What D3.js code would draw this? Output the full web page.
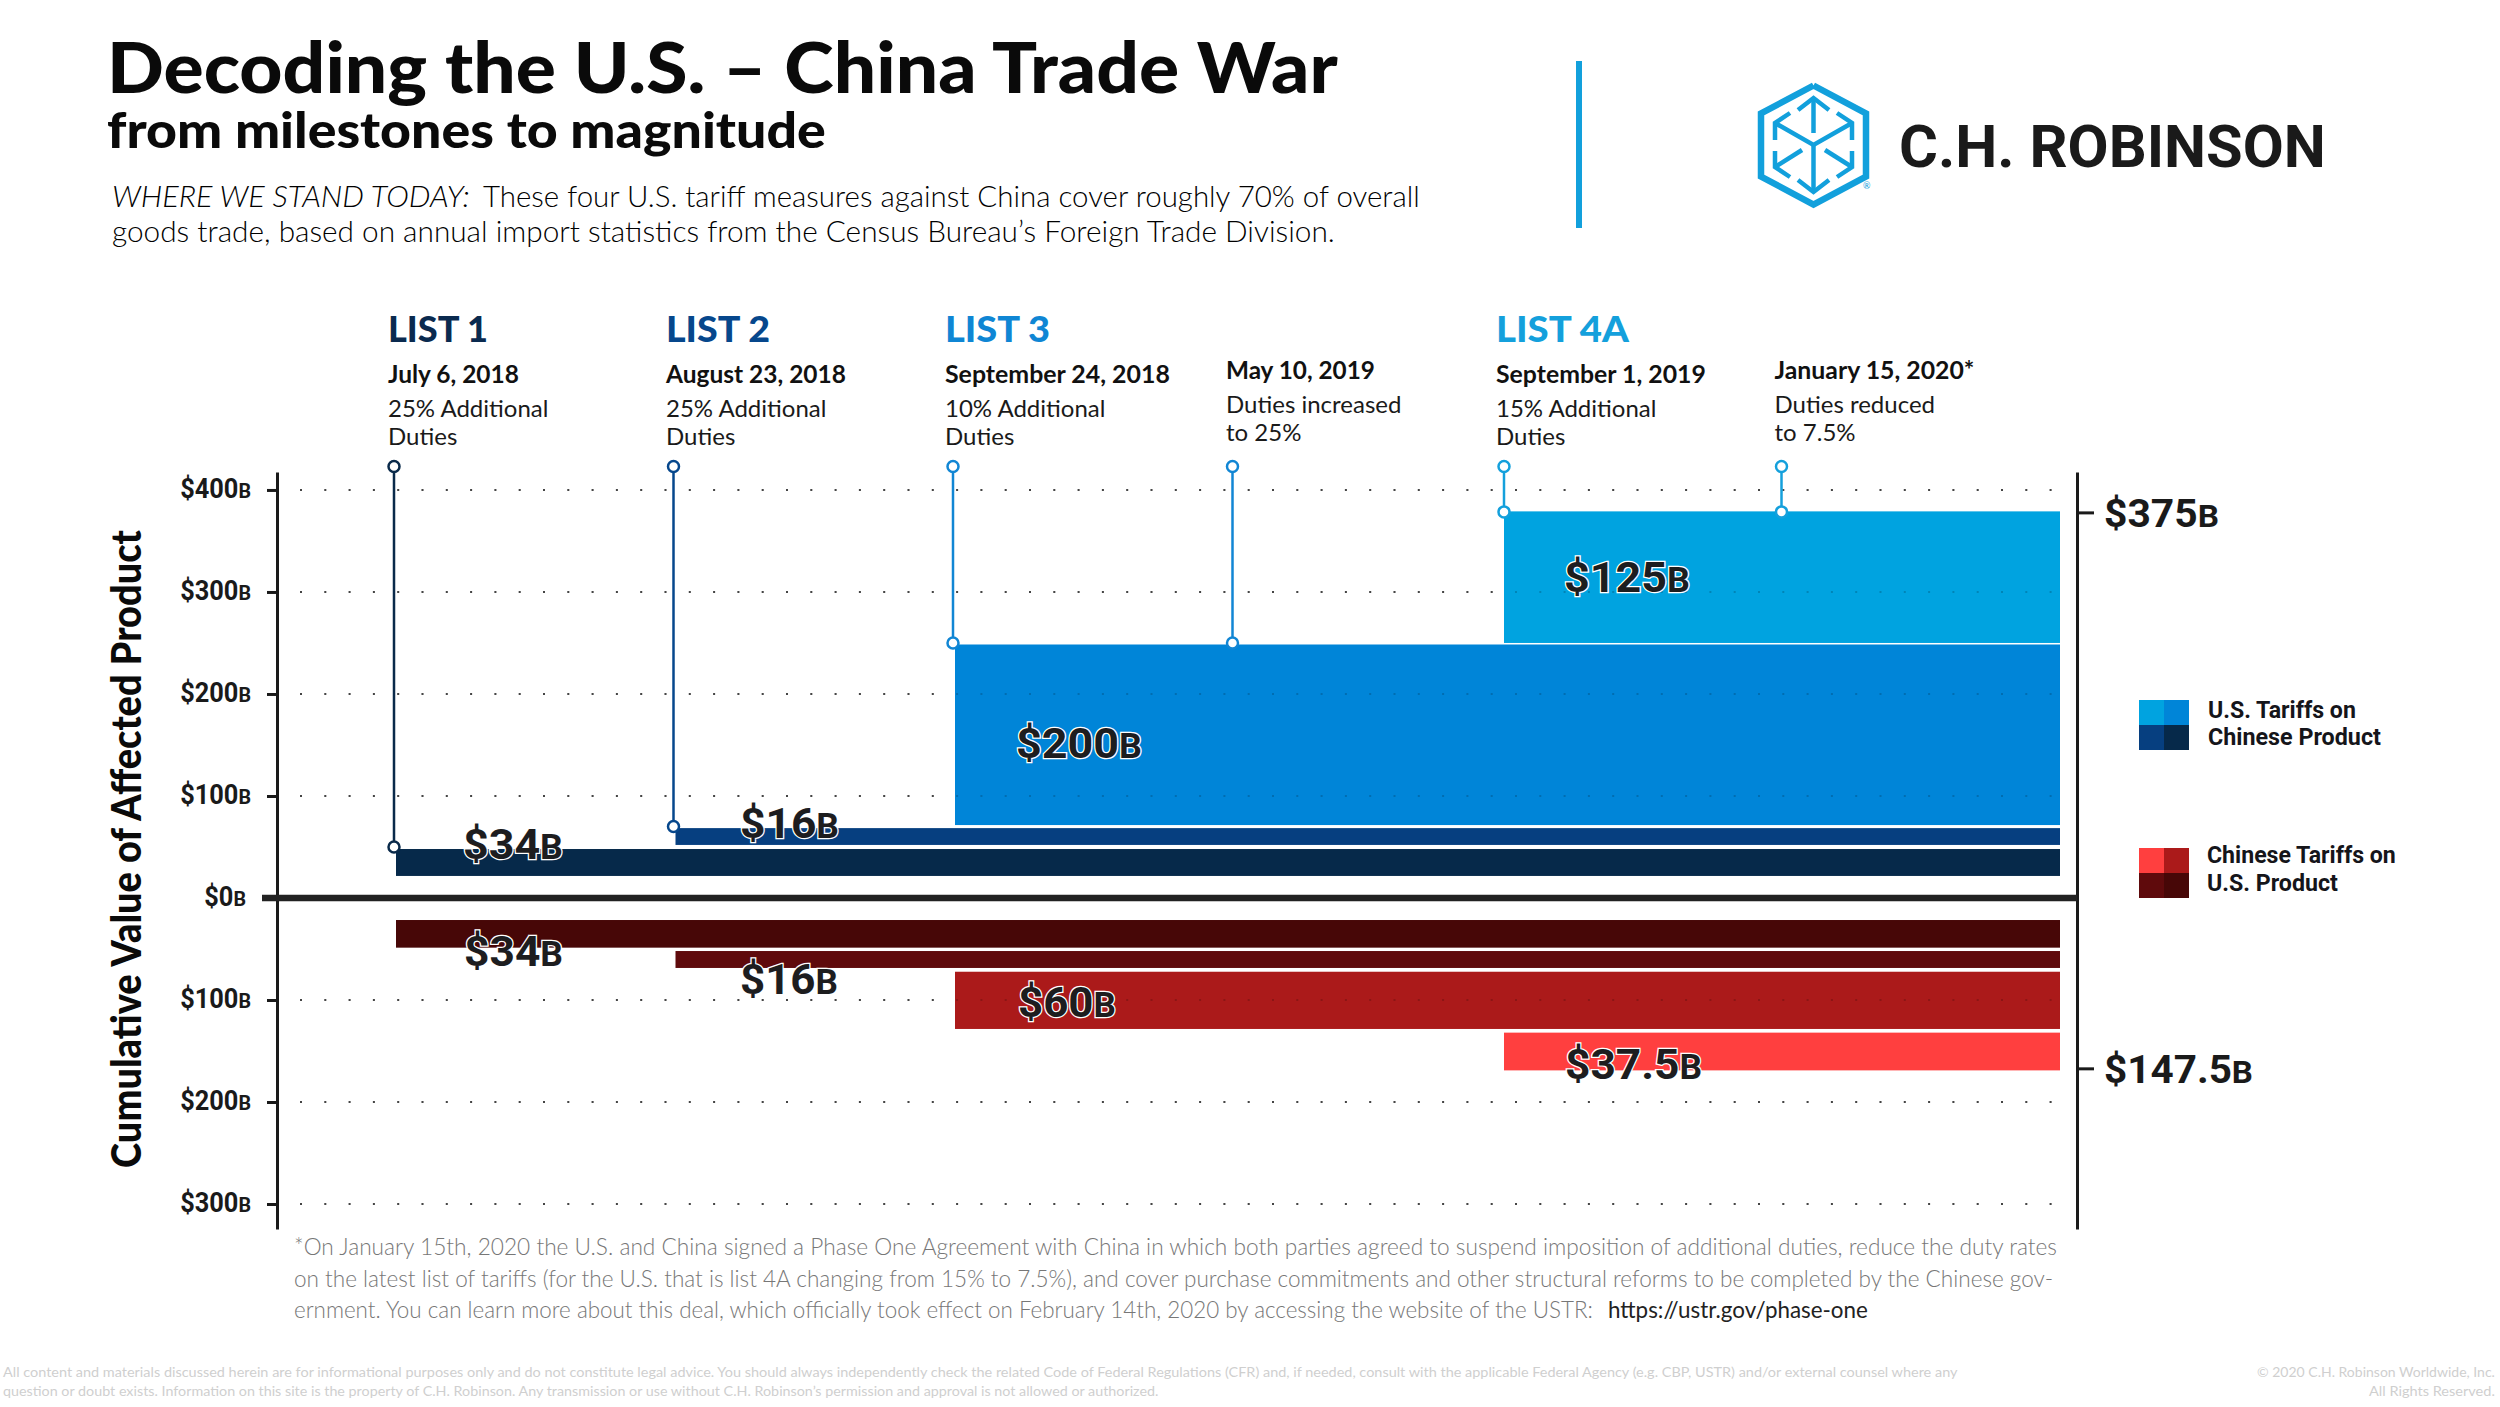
<!DOCTYPE html>
<html>
<head>
<meta charset="utf-8">
<script src="https://cdn.jsdelivr.net/npm/d3@7"></script>
<style>
  body { margin: 0; background: #fff; }
  text { font-family: Lato, "Noto Sans", sans-serif; }
  .num { font-family: Roboto, sans-serif; font-weight: 700; }
  .axis path, .axis line { stroke: #1a1a1a; stroke-width: 3; }
</style>
</head>
<body>
<svg width="2500" height="1407"></svg>
<script>
// values
var milestones = ["July 6, 2018", "August 23, 2018", "September 24, 2018", "May 10, 2019", "September 1, 2019", "January 15, 2020*"];
var milestoneNotes = [
    ["25% Additional", "Duties"],
    ["25% Additional", "Duties"],
    ["10% Additional", "Duties"],
    ["Duties increased", "to 25%"],
    ["15% Additional", "Duties"],
    ["Duties reduced", "to 7.5%"]
];
var listNames = ["LIST 1", "LIST 2", "LIST 3", "", "LIST 4A", ""];
var stemBase = [50, 70, 250, 250, 378.5, 378.5];
var stemTop = 423;

var barStart = [0, 1, 2, 4];
var barEnd = 6;
var usLow = [21.6, 52, 71.5, 250];
var usHigh = [48, 68.5, 248.5, 379];
var usLabels = ["$34", "$16", "$200", "$125"];
var cnLow = [21.6, 52, 72.3, 132];
var cnHigh = [48.7, 68.6, 128.4, 169];
var cnLabels = ["$34", "$16", "$60", "$37.5"];

var leftTicks = [400, 300, 200, 100, 0, -100, -200, -300];
var gridValues = [400, 300, 200, 100, -100, -200, -300];
var rightTicks = [378, -167];
var rightLabels = ["$375", "$147.5"];

// styles
var usColors = ["#06294a", "#063f80", "#0085d8", "#00a3e0"];
var cnColors = ["#470707", "#5f0a0c", "#ab1a1a", "#ff3f3f"];
var stemColors = ["#0a2a4a", "#06478c", "#1186d4", "#1186d4", "#14a0dc", "#14a0dc"];
var listColors = ["#0a2a4f", "#06478c", "#0f86d4", "", "#14a0dc", ""];
var logoBlue = "#12a0dc";

var svg = d3.select("svg");

var yScale = d3.scaleLinear().domain([-324.5, 417.6]).range([1229, 472]);
// milestones are evenly spaced apart from the fifth one
var xScale = d3.scaleLinear().domain([0, 3, 4, 5, 6]).range([394, 1232.5, 1504, 1781.5, 2060]);

// put a text at x,y and squeeze it to a width so it lines up with the original
function place(sel, x, y, w) {
    var k = w ? w / sel.node().getComputedTextLength() : 1;
    return sel.attr("transform", "translate(" + x + "," + y + ") scale(" + k + ",1)");
}

function addText(x, y, w, str, size, weight, color, family, italic) {
    var t = svg.append("text")
        .style("font-size", size + "px")
        .style("font-weight", weight)
        .style("font-style", italic ? "italic" : "normal")
        .attr("fill", color)
        .text(str);
    if (family) t.style("font-family", family);
    return place(t, x, y, w);
}

// header
addText(107, 92.5, 1231, "Decoding the U.S. – China Trade War", 71, 900, "#0a0a0a");
addText(107, 147.5, 719, "from milestones to magnitude", 50, 900, "#0a0a0a");
addText(112, 206.5, 358, "WHERE WE STAND TODAY:", 30, 300, "#000", null, true);
addText(483, 206.5, 937, "These four U.S. tariff measures against China cover roughly 70% of overall", 30, 300, "#000");
addText(112, 241.5, 1223, "goods trade, based on annual import statistics from the Census Bureau’s Foreign Trade Division.", 30, 300, "#000");

svg.append("rect").attr("x", 1576).attr("y", 61).attr("width", 6).attr("height", 167).attr("fill", logoBlue);

// logo
var logoParts = [
    [[1813.5, 85.5], [1866, 113.5], [1866, 176.5], [1813.5, 204.5], [1761, 176.5], [1761, 113.5], [1813.5, 85.5]],
    [[1798, 110], [1813.5, 98], [1829, 110]],
    [[1813.5, 98], [1813.5, 133]],
    [[1775, 123], [1813.5, 145], [1852, 123]],
    [[1813.5, 145], [1813.5, 192]],
    [[1798, 180], [1813.5, 192], [1829, 180]],
    [[1790, 113], [1775, 123], [1775, 140]],
    [[1837, 113], [1852, 123], [1852, 140]],
    [[1775, 151], [1775, 167], [1790, 177]],
    [[1852, 151], [1852, 167], [1837, 177]],
    [[1775, 167], [1802, 150]],
    [[1852, 167], [1825, 150]]
];
svg.append("g").selectAll("path")
    .data(logoParts)
    .enter().append("path")
    .attr("d", d3.line())
    .attr("fill", "none")
    .attr("stroke", logoBlue)
    .attr("stroke-width", function(d, i) { return i == 0 ? 6.5 : 4.5; })
    .attr("stroke-linejoin", "miter");
addText(1863, 189, null, "®", 9, 400, logoBlue);
addText(1899, 166.5, 427, "C.H. ROBINSON", 60, 700, "#1a1a1a", "Roboto");

// dotted grid
function drawGrid(color, opacity) {
    svg.append("g").selectAll("line")
        .data(gridValues)
        .enter().append("line")
        .attr("x1", 300)
        .attr("x2", xScale(barEnd))
        .attr("y1", function(d) { return yScale(d); })
        .attr("y2", function(d) { return yScale(d); })
        .attr("stroke", color)
        .attr("stroke-opacity", opacity)
        .attr("stroke-width", 2)
        .attr("stroke-dasharray", "2 22.3");
}
drawGrid("#555", 1);

// bars
var barInset = [2, 2, 2, 0];
function drawBars(low, high, colors) {
    svg.append("g").selectAll("rect")
        .data(barStart)
        .enter().append("rect")
        .attr("x", function(d, i) { return xScale(d) + barInset[i]; })
        .attr("width", function(d, i) { return xScale(barEnd) - xScale(d) - barInset[i]; })
        .attr("y", function(d, i) { return Math.min(yScale(low[i]), yScale(high[i])); })
        .attr("height", function(d, i) { return Math.abs(yScale(low[i]) - yScale(high[i])); })
        .attr("fill", function(d, i) { return colors[i]; });
}
drawBars(usLow, usHigh, usColors);
drawBars(cnLow.map(function(d) { return -d; }), cnHigh.map(function(d) { return -d; }), cnColors);
drawGrid("#000", 0.18);

// axes
function finishTicks(g, size, smallSize) {
    g.selectAll(".tick text")
        .attr("class", "num")
        .attr("x", 0)
        .attr("dy", 0)
        .attr("fill", "#1a1a1a")
        .style("font-size", size + "px")
        .each(function() {
            d3.select(this).append("tspan").style("font-size", smallSize + "px").text("B");
        });
    return g;
}

var leftAxis = svg.append("g")
    .attr("class", "axis")
    .attr("transform", "translate(277,0)")
    .call(d3.axisLeft(yScale).tickValues(leftTicks).tickSize(10).tickSizeOuter(0)
        .tickFormat(function(d) { return "$" + Math.abs(d); }));
finishTicks(leftAxis, 27, 21);
leftAxis.selectAll(".tick text")
    .attr("transform", function(d) { return "translate(" + (d == 0 ? -31 : -26) + ",7.5) scale(0.94,1)"; });

var rightAxis = svg.append("g")
    .attr("class", "axis")
    .attr("transform", "translate(2077,0)")
    .call(d3.axisRight(yScale).tickValues(rightTicks).tickSize(17).tickSizeOuter(0)
        .tickFormat(function(d, i) { return rightLabels[i]; }));
finishTicks(rightAxis, 38, 31);
rightAxis.selectAll(".tick text")
    .attr("text-anchor", "start")
    .attr("transform", "translate(27,14.5)")
    .each(function() {
        var k = d3.select(this).text() == "$375B" ? 115 : 149;
        d3.select(this).attr("transform", "translate(27,14.5) scale(" + (k / this.getComputedTextLength()) + ",1)");
    });

// zero line
svg.append("line")
    .attr("x1", 262)
    .attr("x2", 2077)
    .attr("y1", yScale(0))
    .attr("y2", yScale(0))
    .attr("stroke", "#222")
    .attr("stroke-width", 6.5);

var yTitle = addText(0, 0, null, "Cumulative Value of Affected Product", 41, 900, "#0a0a0a")
    .attr("text-anchor", "middle");
yTitle.attr("transform", "translate(140.5,849) rotate(-90) scale(" + (638 / yTitle.node().getComputedTextLength()) + ",1)");

// stems with their two rings
var stems = svg.append("g").selectAll("g")
    .data(milestones)
    .enter().append("g")
    .attr("transform", function(d, i) { return "translate(" + xScale(i) + ",0)"; });
stems.append("line")
    .attr("y1", yScale(stemTop))
    .attr("y2", function(d, i) { return yScale(stemBase[i]); })
    .attr("stroke", function(d, i) { return stemColors[i]; })
    .attr("stroke-width", 2.5);
stems.append("circle")
    .attr("cy", yScale(stemTop))
    .attr("r", 5.5)
    .attr("fill", "#fff")
    .attr("stroke", function(d, i) { return stemColors[i]; })
    .attr("stroke-width", 2.5);
stems.append("circle")
    .attr("cy", function(d, i) { return yScale(stemBase[i]); })
    .attr("r", 5.5)
    .attr("fill", "#fff")
    .attr("stroke", function(d, i) { return stemColors[i]; })
    .attr("stroke-width", 2.5);

// milestone captions
var listW = [100, 104, 105, 0, 133, 0];
var dateX = [388, 666, 945, 1226, 1496, 1774.5];
var dateY = [383, 383, 383, 379, 383, 379];
var dateW = [131, 180, 225, 149, 210, 200];
milestones.forEach(function(d, i) {
    if (listNames[i]) {
        addText(dateX[i], 341.5, listW[i], listNames[i], 36, 900, listColors[i]);
    }
    addText(dateX[i], dateY[i], dateW[i], d, 24, 700, "#111");
    addText(dateX[i], dateY[i] + 34, null, milestoneNotes[i][0], 24, 400, "#1a1a1a");
    addText(dateX[i], dateY[i] + 62, null, milestoneNotes[i][1], 24, 400, "#1a1a1a");
});

// value labels on the bars
function barLabel(x, value, w, str, size) {
    var t = svg.append("text")
        .attr("class", "num")
        .attr("fill", "#1d1d1f")
        .attr("stroke", "#fff")
        .attr("stroke-width", 2.5)
        .attr("paint-order", "stroke")
        .style("font-size", size + "px")
        .text(str);
    t.append("tspan").style("font-size", (size * 0.8) + "px").text("B");
    place(t, x, yScale(value), w);
}
var usLabelX = [463, 740, 1016, 1564];
var usLabelY = [37.8, 59, 137.5, 300];
var usLabelW = [100, 99, 126, 126];
var cnLabelX = [464, 740, 1018, 1565];
var cnLabelY = [-67, -94, -117, -177.5];
var cnLabelW = [99, 98, 98, 137];
barStart.forEach(function(d, i) {
    barLabel(usLabelX[i], usLabelY[i], usLabelW[i], usLabels[i], 43);
    barLabel(cnLabelX[i], cnLabelY[i], cnLabelW[i], cnLabels[i], 43);
});

// legend
var legendColors = [
    { x: 2139, y: 700, c: [usColors[3], usColors[2], usColors[1], usColors[0]] },
    { x: 2139, y: 848, c: [cnColors[3], cnColors[2], cnColors[1], cnColors[0]] }
];
legendColors.forEach(function(l) {
    l.c.forEach(function(c, i) {
        svg.append("rect")
            .attr("x", l.x + (i % 2) * 25)
            .attr("y", l.y + Math.floor(i / 2) * 25)
            .attr("width", 25)
            .attr("height", 25)
            .attr("fill", c);
    });
});
addText(2208, 717.5, 148, "U.S. Tariffs on", 24, 700, "#15151a", "Roboto");
addText(2208, 745, 173, "Chinese Product", 24, 700, "#15151a", "Roboto");
addText(2207, 862.5, 189, "Chinese Tariffs on", 24, 700, "#15151a", "Roboto");
addText(2207, 891, 131, "U.S. Product", 24, 700, "#15151a", "Roboto");

// notes
var noteGrey = "#777";
addText(294, 1255, 1764, "*On January 15th, 2020 the U.S. and China signed a Phase One Agreement with China in which both parties agreed to suspend imposition of additional duties, reduce the duty rates", 23, 300, noteGrey);
addText(294, 1286.5, 1760, "on the latest list of tariffs (for the U.S. that is list 4A changing from 15% to 7.5%), and cover purchase commitments and other structural reforms to be completed by the Chinese gov-", 23, 300, noteGrey);
addText(294, 1318, 1300, "ernment. You can learn more about this deal, which officially took effect on February 14th, 2020 by accessing the website of the USTR:", 23, 300, noteGrey);
addText(1608, 1318, 260, "https://ustr.gov/phase-one", 23, 400, "#222");

var fineGrey = "#cfcfcf";
addText(3, 1376.5, 1957, "All content and materials discussed herein are for informational purposes only and do not constitute legal advice. You should always independently check the related Code of Federal Regulations (CFR) and, if needed, consult with the applicable Federal Agency (e.g. CBP, USTR) and/or external counsel where any", 14, 400, fineGrey);
addText(3, 1395.5, 1156, "question or doubt exists. Information on this site is the property of C.H. Robinson. Any transmission or use without C.H. Robinson’s permission and approval is not allowed or authorized.", 14, 400, fineGrey);
addText(2257, 1376.5, 238, "© 2020 C.H. Robinson Worldwide, Inc.", 14, 400, fineGrey);
addText(2369, 1395.5, 126, "All Rights Reserved.", 14, 400, fineGrey);
</script>
</body>
</html>
